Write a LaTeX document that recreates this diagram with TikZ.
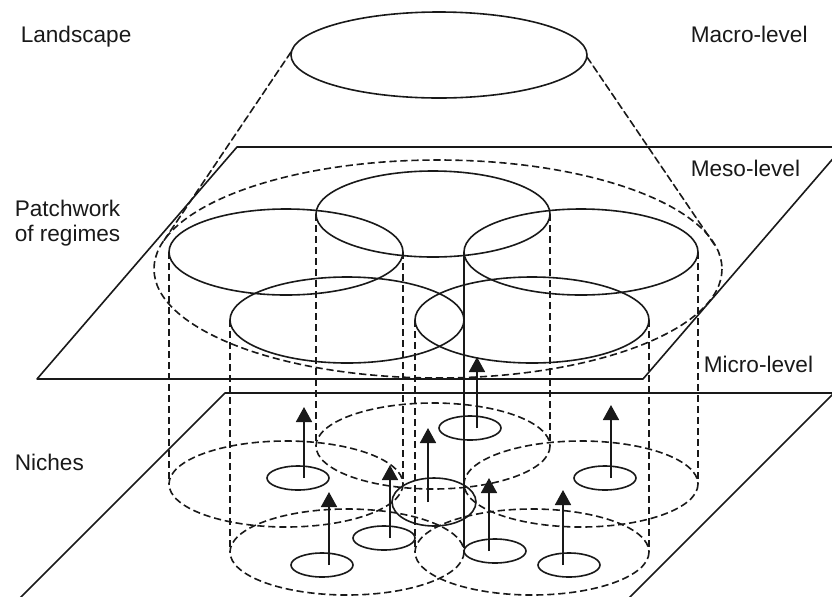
\documentclass[tikz,border=0pt]{standalone}
\usepackage{fontspec}
\setmainfont{Liberation Sans}
\usetikzlibrary{arrows.meta}
\usepackage{tkz-euclide}
\definecolor{LineClr}{rgb}{0.1,0.1,0.1}

\begin{document}
\begin{tikzpicture}[x=0.5pt,y=-0.5pt,line width=0.8pt,color=LineClr,
  dsh/.style={dash pattern=on 3.6pt off 1.9pt},
  regime/.style={x radius=117,y radius=43},
  niche/.style={x radius=31,y radius=12},
  up/.style={-{Triangle[width=8pt,length=7.5pt]},line width=0.85pt},
  lbl/.style={font=\fontsize{11.3}{12.5}\selectfont,inner sep=0pt,anchor=base west}]
\tkzSetUpLine[line width=0.8pt,color=LineClr]
\useasboundingbox (0,0) rectangle (832,596);
\clip (0,0) rectangle (832,596);

% the two planes
\tkzDefPoints{37/379/P1,643/379/P2,843/147/P3,237/147/P4}
\tkzDefPoints{-82/700/Q1,527/700/Q2,834/393/Q3,225/393/Q4}
\tkzDrawPolygon(P1,P2,P3,P4)
\tkzDrawPolygon(Q1,Q2,Q3,Q4)

% landscape and its cone
\draw (439,55) ellipse [x radius=148,y radius=43];
\tkzDefPoints{291/52/L1,587/57/L2,163/242/T1,716/247/T2}
\tkzDrawSegments[dsh](L1,T1 L2,T2)
\draw[dsh] (438,269) ellipse [x radius=284,y radius=109];

% regimes
\tkzDefPoints{286/252/A,433/214/B,581/252/C,347/320/D,532/320/E}
\draw (A) ellipse [regime];
\draw (B) ellipse [regime];
\draw (C) ellipse [regime];
\draw (D) ellipse [regime];
\draw (E) ellipse [regime];

% niche level below the regimes
\tkzDefPoints{286/484/NA,433/446/NB,581/484/NC,347/552/ND,532/552/NE}
\draw[dsh] (NA) ellipse [regime];
\draw[dsh] (NB) ellipse [regime];
\draw[dsh] (NC) ellipse [regime];
\draw[dsh] (ND) ellipse [regime];
\draw[dsh] (NE) ellipse [regime];

\draw[dsh] (169,252) -- (169,484);
\draw[dsh] (403,252) -- (403,484);
\draw[dsh] (316,214) -- (316,446);
\draw[dsh] (550,214) -- (550,446);
\draw (464,252) -- (464,548);
\draw[dsh] (698,252) -- (698,484);
\draw[dsh] (230,320) -- (230,552);
\draw[dsh] (415,320) -- (415,552);
\draw[dsh] (649,320) -- (649,552);

% niches
\draw (298,478) ellipse [niche];
\draw (322,565) ellipse [niche];
\draw (384,538) ellipse [niche];
\draw (434,502) ellipse [x radius=42,y radius=24];
\draw (470,428) ellipse [niche];
\draw (605,478) ellipse [niche];
\draw (569,565) ellipse [niche];
\draw (495,551) ellipse [niche];
\draw[up] (304,478) -- (304,407);
\draw[up] (329,565) -- (329,492);
\draw[up] (390,538) -- (390,465);
\draw[up] (428,502) -- (428,428);
\draw[up] (477,428) -- (477,357);
\draw[up] (611,478) -- (611,405);
\draw[up] (563,565) -- (563,490);
\draw[up] (489,551) -- (489,478);

% labels
\node[lbl] (land) at (20,42) {Landscape};
\node[lbl] (macro) at (690,42) {Macro-level};
\node[lbl] (meso) at (690,176) {Meso-level};
\node[lbl,anchor=north west,align=left] (patch) at (14,199) {Patchwork\\of regimes};
\node[lbl] (micro) at (703,372) {Micro-level};
\node[lbl] (niches) at (14,470) {Niches};
\end{tikzpicture}
\end{document}
